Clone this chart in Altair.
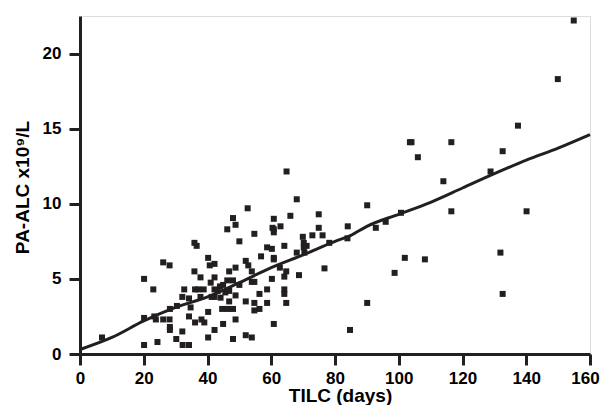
import altair as alt
import pandas as pd

# Scatter points (TILC days, PA-ALC x10^9/L)
tilc = [6.9, 20.1, 20.1, 20.1, 23.0, 23.3, 24.3, 26.1, 28.1, 26.1, 28.1, 28.2, 28.2, 28.2,
        30.4, 30.2, 32.1, 32.1, 32.7, 32.2, 34.2, 34.2, 34.7, 34.2, 35.9, 36.6, 35.9, 36.1,
        36.1, 37.1, 37.8, 38.1, 39.0, 38.8, 37.8, 40.2, 40.2, 40.2, 41.0, 40.7, 42.2, 42.2,
        42.2, 42.2, 42.2, 41.3, 43.2, 43.9, 44.1, 44.6, 44.9, 44.9, 45.6, 46.2, 46.2, 46.2,
        46.8, 46.8, 46.8, 48.0, 48.8, 48.0, 48.0, 48.8, 48.8, 48.8, 48.0, 50.0, 50.0, 52.0,
        52.8, 52.0, 52.0, 52.6, 53.9, 53.9, 53.9, 54.7, 54.7, 54.7, 54.7, 56.3, 56.3, 56.8,
        58.7, 58.7, 58.7, 60.2, 60.2, 60.4, 60.8, 60.8, 60.8, 60.8, 60.8, 60.8, 62.7, 62.9,
        64.1, 64.1, 64.1, 64.1, 64.7, 64.7, 64.8, 66.0, 68.0, 68.0, 68.7, 69.9, 70.2, 70.2,
        70.4, 71.1, 72.9, 74.9, 74.9, 76.1, 76.7, 78.2, 84.0, 83.9, 84.7, 90.1, 90.1, 92.8,
        95.9, 98.7, 100.7, 101.9, 104.0, 106.0, 108.2, 114.0, 116.5, 116.5, 128.8, 131.9,
        132.6, 132.6, 137.4, 140.1, 149.9, 154.9, 23.8, 103.5]
pa_alc = [1.1, 5.0, 2.4, 0.6, 4.3, 2.5, 0.8, 6.1, 5.9, 2.3, 2.3, 3.0, 1.8, 1.6,
          3.2, 1.0, 3.8, 1.5, 4.3, 0.6, 0.6, 3.7, 3.1, 2.5, 7.4, 7.2, 5.5, 4.3,
          2.1, 4.3, 5.1, 2.3, 2.1, 4.3, 3.8, 6.4, 2.8, 1.1, 4.75, 5.9, 6.0, 5.1,
          4.3, 3.8, 1.6, 3.8, 4.2, 4.5, 3.75, 3.0, 2.0, 4.6, 4.1, 8.3, 4.9, 3.0,
          5.5, 3.5, 4.2, 9.05, 8.6, 3.0, 1.0, 5.75, 3.9, 2.3, 4.9, 4.6, 7.5, 6.2,
          5.9, 3.5, 1.25, 9.7, 1.1, 5.5, 4.8, 4.8, 8.0, 3.4, 2.9, 3.0, 4.0, 6.5,
          7.1, 4.3, 3.4, 7.0, 5.0, 8.4, 9.0, 8.3, 8.1, 6.4, 6.3, 2.0, 5.75, 8.5,
          7.2, 5.15, 4.3, 4.0, 5.5, 3.4, 12.15, 9.2, 10.3, 6.75, 5.25, 7.8, 7.4, 7.1,
          6.75, 7.2, 7.9, 9.3, 8.4, 7.9, 5.7, 7.4, 8.5, 7.7, 1.6, 9.9, 3.4, 8.4,
          8.8, 5.4, 9.4, 6.4, 14.1, 13.1, 6.3, 11.5, 14.1, 9.5, 12.15, 6.75,
          13.5, 4.0, 15.2, 9.5, 18.3, 22.2, 2.3, 14.1]

# Smoothed fit line
fit_x = [0, 10, 20, 30, 40, 50, 60, 70, 80, 85, 90, 100, 110, 120, 130, 140, 150, 160]
fit_y = [0.3, 1.1, 2.2, 3.1, 3.8, 4.75, 5.75, 6.6, 7.5, 7.9, 8.5, 9.3, 10.1, 11.05, 12.0, 12.9, 13.7, 14.6]

x_ticks = [0, 20, 40, 60, 80, 100, 120, 140, 160]
y_ticks = [0, 2.5, 5, 7.5, 10, 12.5, 15, 17.5, 20, 22.5]

pts = pd.DataFrame({"TILC": tilc, "ALC": pa_alc})
fit = pd.DataFrame({"TILC": fit_x, "ALC": fit_y})

INK = "#231f20"
FONT = "Liberation Sans"

x_enc = alt.X(
    "TILC:Q",
    scale=alt.Scale(domain=[0, 160], nice=False, zero=True),
    axis=alt.Axis(
        values=x_ticks, title="TILC (days)", grid=False,
        labelFont=FONT, labelFontSize=17, labelFontWeight="bold", labelColor="#000000",
        labelPadding=5.5, labelFlush=False,
        labelOffset={"condition": {"test": "datum.value == 160", "value": -5}, "value": 0},
        titleFont=FONT, titleFontSize=19, titleFontWeight="bold", titleColor="#000000",
        titleX=260, titleY=47, titleBaseline="alphabetic", titleAlign="center",
        domainColor=INK, domainWidth=3, tickColor=INK, tickWidth=3, tickSize=11,
    ),
)
y_enc = alt.Y(
    "ALC:Q",
    scale=alt.Scale(domain=[0, 22.5], nice=False, zero=True),
    axis=alt.Axis(
        values=y_ticks, title="PA-ALC x10⁹/L", grid=False,
        labelExpr="datum.value % 5 == 0 ? datum.label : ''",
        labelFont=FONT, labelFontSize=17, labelFontWeight="bold", labelColor="#000000",
        labelPadding=8, labelFlush=False,
        titleFont=FONT, titleFontSize=19, titleFontWeight="bold", titleColor="#000000",
        titleX=-52, titleY=171, titleBaseline="alphabetic", titleAlign="center", titleAngle=-90,
        domainColor=INK, domainWidth=3, tickColor=INK, tickWidth=3, tickSize=11,
    ),
)

points = alt.Chart(pts).mark_point(
    shape="square", filled=True, size=36, color=INK, opacity=1, strokeWidth=0
).encode(x=x_enc, y=y_enc)

line = alt.Chart(fit).mark_line(color=INK, strokeWidth=3, interpolate="monotone").encode(
    x="TILC:Q", y="ALC:Q"
)

chart = (
    alt.layer(points, line)
    .properties(
        width=510, height=338,
        autosize=alt.AutoSizeParams(type="none"),
        padding={"left": 72, "top": 8, "right": 10, "bottom": 51},
    )
    .configure_view(stroke=None)
    .configure(background="white")
)

chart.save("out.html", embed_options={"renderer": "svg", "actions": False})
